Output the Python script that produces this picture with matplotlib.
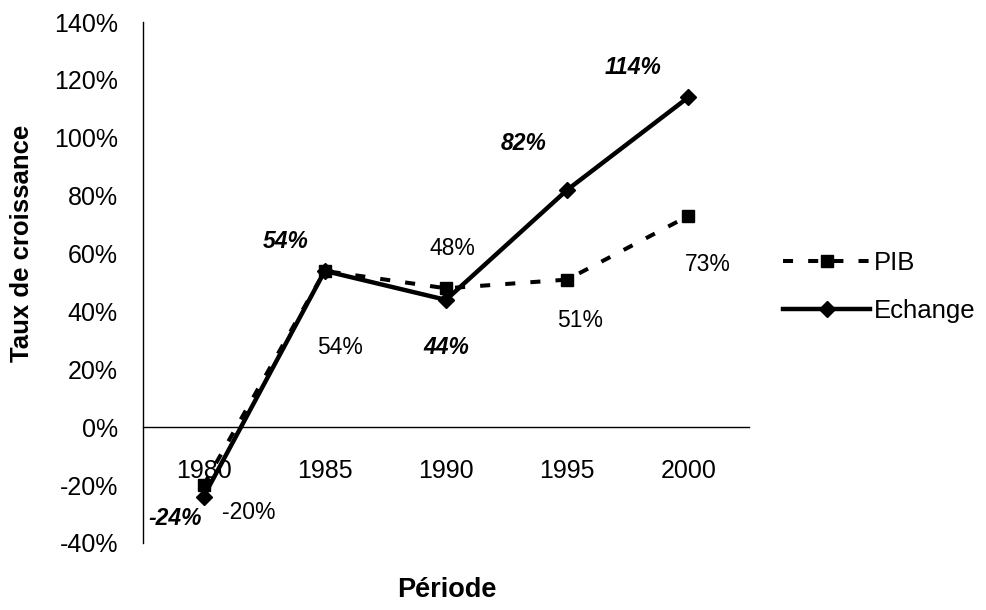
import matplotlib
matplotlib.use("Agg")
import matplotlib.pyplot as plt
from matplotlib.ticker import PercentFormatter

plt.rcParams['font.family'] = ['Liberation Sans', 'DejaVu Sans']
plt.rcParams['axes.unicode_minus'] = False

# data
periodes = ['1980', '1985', '1990', '1995', '2000']
pib = [-0.20, 0.54, 0.48, 0.51, 0.73]
echange = [-0.24, 0.54, 0.44, 0.82, 1.14]

# label offsets (pixels)
pib_off = [(45, -27), (15, -77), (6, 40), (13, -41), (19, -49)]
ech_off = [(-28, -22), (-39, 29), (0, -48), (-44, 46), (-55, 30)]

fig = plt.figure(figsize=(9.87, 6.10), dpi=100)
ax = fig.add_axes([143/987, 1-543/610, 606/987, 521/610])

x = range(len(periodes))
ax.plot(x, pib, color='black', lw=2.9, dashes=(2.5, 3.75), marker='s', ms=8.7, label='PIB')
ax.plot(x, echange, color='black', lw=3.2, marker='D', ms=8, label='Echange')

for i, v in enumerate(pib):
    dx, dy = pib_off[i]
    ax.annotate(f"{v:.0%}", (i, v), xytext=(dx*0.72, dy*0.72), textcoords='offset points',
                ha='center', va='center', fontsize=16.5)
for i, v in enumerate(echange):
    dx, dy = ech_off[i]
    ax.annotate(f"{v:.0%}", (i, v), xytext=(dx*0.72, dy*0.72), textcoords='offset points',
                ha='center', va='center', fontsize=16.5, fontweight='bold', fontstyle='italic')

ax.set_xlim(-0.5, 4.5)
ax.set_ylim(-0.4, 1.4)
ax.set_xticks(list(x))
ax.set_xticklabels(periodes)
ax.set_yticks([i/5 for i in range(-2, 8)])
ax.yaxis.set_major_formatter(PercentFormatter(1.0, decimals=0))
ax.tick_params(axis='both', length=0, labelsize=18)
ax.tick_params(axis='y', pad=18)
ax.tick_params(axis='x', pad=23)

ax.spines['top'].set_visible(False)
ax.spines['right'].set_visible(False)
ax.spines['bottom'].set_position(('data', 0))
ax.spines['left'].set_linewidth(1)
ax.spines['bottom'].set_linewidth(1)

fig.text(22/987, 1-243/610, 'Taux de croissance', rotation=90, ha='center', va='center',
         fontsize=18.5, fontweight='bold')
fig.text(447/987, 1-590/610, 'Période', ha='center', va='center', fontsize=19.5, fontweight='bold')

ax.legend(loc='center left', bbox_to_anchor=(783/987, 1-287/610), bbox_transform=fig.transFigure,
          frameon=False, borderpad=0, borderaxespad=0, fontsize=18.5, handlelength=3.4,
          handletextpad=0.15, labelspacing=0.95)

fig.savefig('out.png', dpi=100)
